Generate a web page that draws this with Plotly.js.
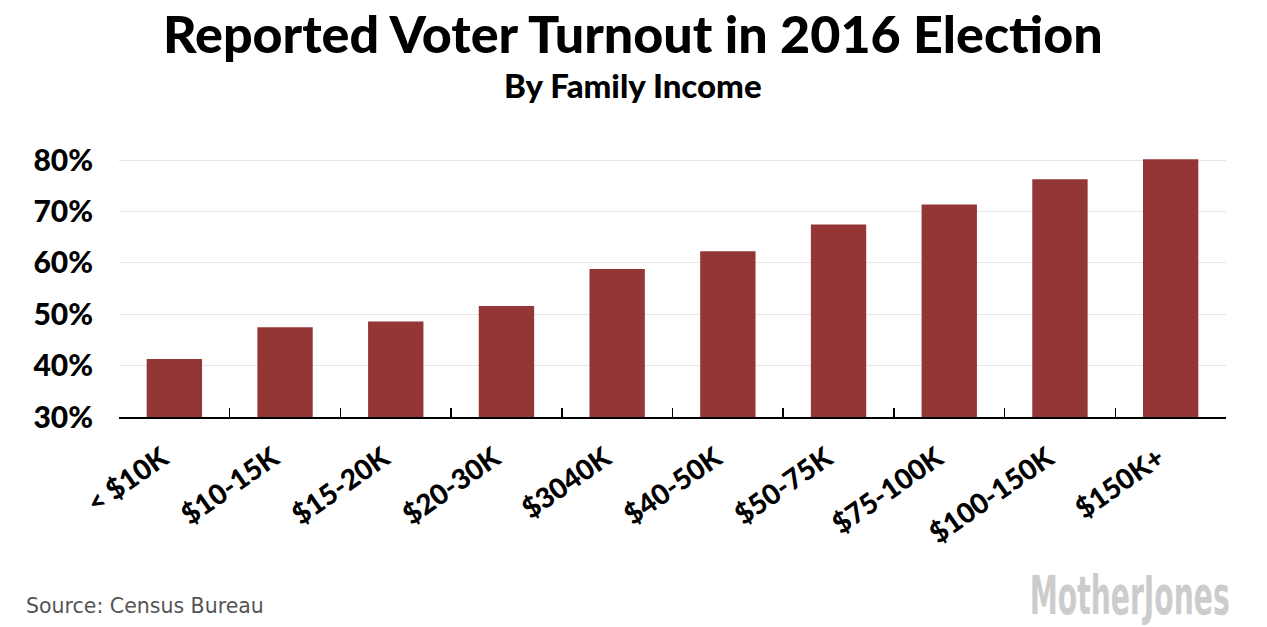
<!DOCTYPE html>
<html>
<head>
<meta charset="utf-8">
<script src="https://cdn.plot.ly/plotly-3.0.1.min.js"></script>
<style>html,body{margin:0;padding:0;background:#fff;}#chart{width:1267px;height:627px;}</style>
</head>
<body>
<div id="chart"></div>
<script>
const categories = ["< $10K", "$10-15K", "$15-20K", "$20-30K", "$3040K", "$40-50K", "$50-75K", "$75-100K", "$100-150K", "$150K+"];
const turnout = [41.3, 47.5, 48.6, 51.6, 58.8, 62.3, 67.5, 71.4, 76.3, 80.2];
const yTicks = [30, 40, 50, 60, 70, 80];

const trace = {
  type: "bar",
  x: categories,
  y: turnout,
  marker: {color: "#943636"},
  hoverinfo: "skip"
};

const layout = {
  width: 1267, height: 627,
  margin: {l: 119, r: 41, t: 150, b: 210},
  paper_bgcolor: "#fff", plot_bgcolor: "#fff",
  bargap: 0.5,
  showlegend: false,
  font: {family: "Lato, 'Open Sans', sans-serif", color: "#000"},
  xaxis: {
    type: "category",
    showgrid: false,
    showline: true, linecolor: "#000", linewidth: 2,
    ticks: "inside", tickson: "boundaries", ticklen: 9, tickwidth: 1.5, tickcolor: "#000",
    tickangle: -35,
    ticklabelshift: -12,
    ticklabelstandoff: 12,
    tickfont: {family: "Lato, sans-serif", size: 28, color: "#000", weight: 900},
    fixedrange: true
  },
  yaxis: {
    range: [30, 82],
    tickvals: yTicks,
    ticktext: yTicks.map(v => v + "%"),
    showgrid: true, gridcolor: "#e6e6e6", gridwidth: 1,
    zeroline: false, showline: false, ticks: "",
    ticklabelstandoff: 25,
    tickfont: {family: "Lato, sans-serif", size: 30, color: "#000", weight: 900},
    fixedrange: true
  },
  annotations: [
    {text: "Reported Voter Turnout in 2016 Election", xref: "paper", yref: "paper",
     x: 0.464, y: 1.437, xanchor: "center", yanchor: "middle", showarrow: false,
     font: {family: "Lato, sans-serif", size: 52, color: "#000", weight: 900}},
    {text: "By Family Income", xref: "paper", yref: "paper",
     x: 0.464, y: 1.245, xanchor: "center", yanchor: "middle", showarrow: false,
     font: {family: "Lato, sans-serif", size: 33, color: "#000", weight: 900}},
    {text: "Source: Census Bureau", xref: "paper", yref: "paper", x: -0.086, y: -0.708,
     xanchor: "left", yanchor: "middle", showarrow: false,
     font: {family: "'DejaVu Sans', sans-serif", size: 20.5, color: "#555"}},
    {text: "<b>MotherJones</b>", xref: "paper", yref: "paper", x: 1.005, y: -0.667,
     xanchor: "right", yanchor: "middle", showarrow: false,
     font: {family: "'DejaVu Sans', sans-serif", size: 54, color: "#cccccc"}}
  ]
};

Plotly.newPlot("chart", [trace], layout, {displayModeBar: false, staticPlot: true}).then(function (gd) {
  // condense the wordmark horizontally (no condensed font installed)
  const texts = gd.querySelectorAll(".annotation-text");
  texts.forEach(function (t) {
    if (t.textContent === "MotherJones") {
      const bb = t.getBBox();
      const right = bb.x + bb.width;
      const s = 200 / bb.width;
      t.setAttribute("transform", "translate(" + right + ",0) scale(" + s + ",1) translate(" + (-right) + ",0)");
    }
  });
});
</script>
</body>
</html>
